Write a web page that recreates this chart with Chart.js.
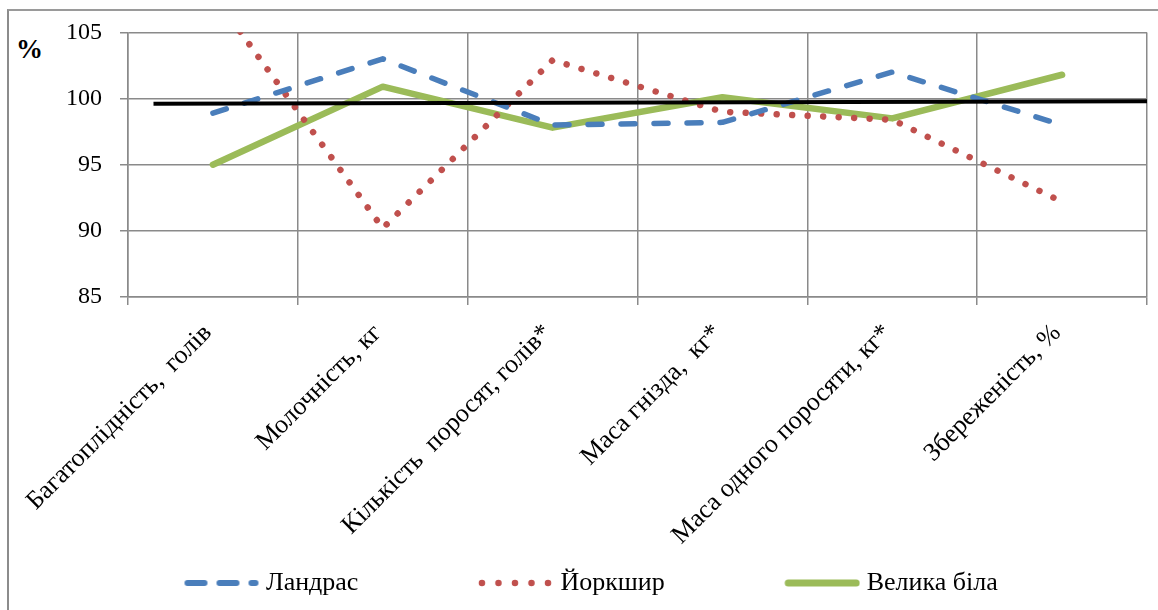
<!DOCTYPE html>
<html><head><meta charset="utf-8">
<script src="https://cdn.jsdelivr.net/npm/chart.js@4.4.0/dist/chart.umd.min.js"></script>
<style>
html,body{margin:0;padding:0;background:#fff;overflow:hidden;}
#wrap{position:relative;width:1158px;height:610px;}
#frame{position:absolute;left:7px;top:9px;width:1400px;height:900px;border-left:2px solid #8c8c8c;border-top:2px solid #9a9a9a;}
#pct{position:absolute;left:16px;top:34px;font:bold 27px 'Liberation Serif','Times New Roman',serif;color:#000;}
canvas{position:absolute;left:0;top:0;}
</style></head><body>
<div id="wrap"><div id="frame"></div><div id="pct">%</div><canvas id="c" width="1158" height="610"></canvas></div>
<script>
const categories = ['Багатоплідність,  голів','Молочність, кг','Кількість  поросят, голів*','Маса гнізда,  кг*','Маса одного поросяти, кг*','Збереженість, %'];
const landrace = [98.9, 103.0, 98.0, 98.2, 102.0, 98.0];
const yorkshire = [107.9, 90.2, 102.9, 99.0, 98.4, 92.2];
const largeWhite = [95.0, 100.9, 97.8, 100.1, 98.5, 101.8];
const seriesNames = ['Ландрас','Йоркшир','Велика біла'];
const baselineX = [0.025, 1];
const baselineY = [99.6, 99.8];
const yTicks = [85, 90, 95, 100, 105];

const FONT = "'Liberation Serif','Times New Roman',serif";
const BLUE = '#4a7ebb', RED = '#c0504d', GREEN = '#9bbb59';
const GAP = 116;

function sample(kind){
  const c = document.createElement('canvas');
  c.width = GAP + 76; c.height = 12;
  const g = c.getContext('2d');
  g.lineCap = 'round';
  g.beginPath(); g.moveTo(GAP+4,6); g.lineTo(GAP+72,6);
  if(kind===0){ g.strokeStyle=BLUE; g.lineWidth=6; g.setLineDash([17,15]); }
  else if(kind===1){ g.strokeStyle=RED; g.lineWidth=6.5; g.setLineDash([0.01,16.5]); }
  else { g.strokeStyle=GREEN; g.lineWidth=7; }
  g.stroke();
  return c;
}
const samples = [sample(0), sample(1), sample(2)];

const baseline = baselineX.map((x,i)=>({x:x, y:baselineY[i]}));

new Chart(document.getElementById('c'), {
  type:'line',
  data:{
    labels: categories,
    datasets:[
      {label:seriesNames[0], data:landrace, borderColor:BLUE, backgroundColor:BLUE, borderWidth:5.5, borderDash:[14,19], borderCapStyle:'round', borderJoinStyle:'round', pointRadius:0, tension:0},
      {label:seriesNames[1], data:yorkshire, borderColor:RED, backgroundColor:RED, borderWidth:6.5, borderDash:[0.01,15.5], borderCapStyle:'round', borderJoinStyle:'round', pointRadius:0, tension:0},
      {label:seriesNames[2], data:largeWhite, borderColor:GREEN, backgroundColor:GREEN, borderWidth:6.5, borderCapStyle:'round', borderJoinStyle:'round', pointRadius:0, tension:0},
      {label:'base', data:baseline, xAxisID:'x2', borderColor:'#000', backgroundColor:'#000', borderWidth:4, pointRadius:0, order:-1}
    ]
  },
  options:{
    responsive:false, animation:false,
    layout:{padding:{left:64, right:11, top:30, bottom:4}},
    plugins:{
      tooltip:{enabled:false},
      legend:{
        position:'bottom', align:'start',
        labels:{
          usePointStyle:true, pointStyleWidth:GAP+76-13, boxHeight:24, padding:10,
          color:'#000', font:{family:FONT, size:26},
          filter:(it)=>it.datasetIndex<3,
          generateLabels:(chart)=>{
            const items = Chart.defaults.plugins.legend.labels.generateLabels(chart);
            items.forEach(it=>{ if(it.datasetIndex<3) it.pointStyle = samples[it.datasetIndex]; });
            return items;
          }
        }
      }
    },
    scales:{
      x:{
        type:'category', offset:true,
        grid:{display:true, offset:true, color:'#8a8a8a', lineWidth:1.5, tickLength:8, drawTicks:true},
        border:{color:'#8a8a8a', width:1.5},
        ticks:{color:'#000', font:{family:FONT, size:26}, minRotation:45, maxRotation:45, autoSkip:false, padding:13, labelOffset:-5},
        afterFit:(s)=>{ const lg = s.chart.legend; s.height = 610 - 4 - 297 - (lg ? lg.height : 0); }
      },
      x2:{type:'linear', display:false, min:0, max:1},
      y:{
        min:85, max:105,
        afterBuildTicks:(s)=>{ s.ticks = yTicks.map(v=>({value:v})); },
        grid:{color:'#8a8a8a', lineWidth:1.5, tickLength:8},
        border:{color:'#8a8a8a', width:1.5},
        ticks:{color:'#000', font:{family:FONT, size:24}, padding:18},
        afterFit:(s)=>{ s.width = 128 - 64; }
      }
    }
  }
});
</script>
</body></html>
